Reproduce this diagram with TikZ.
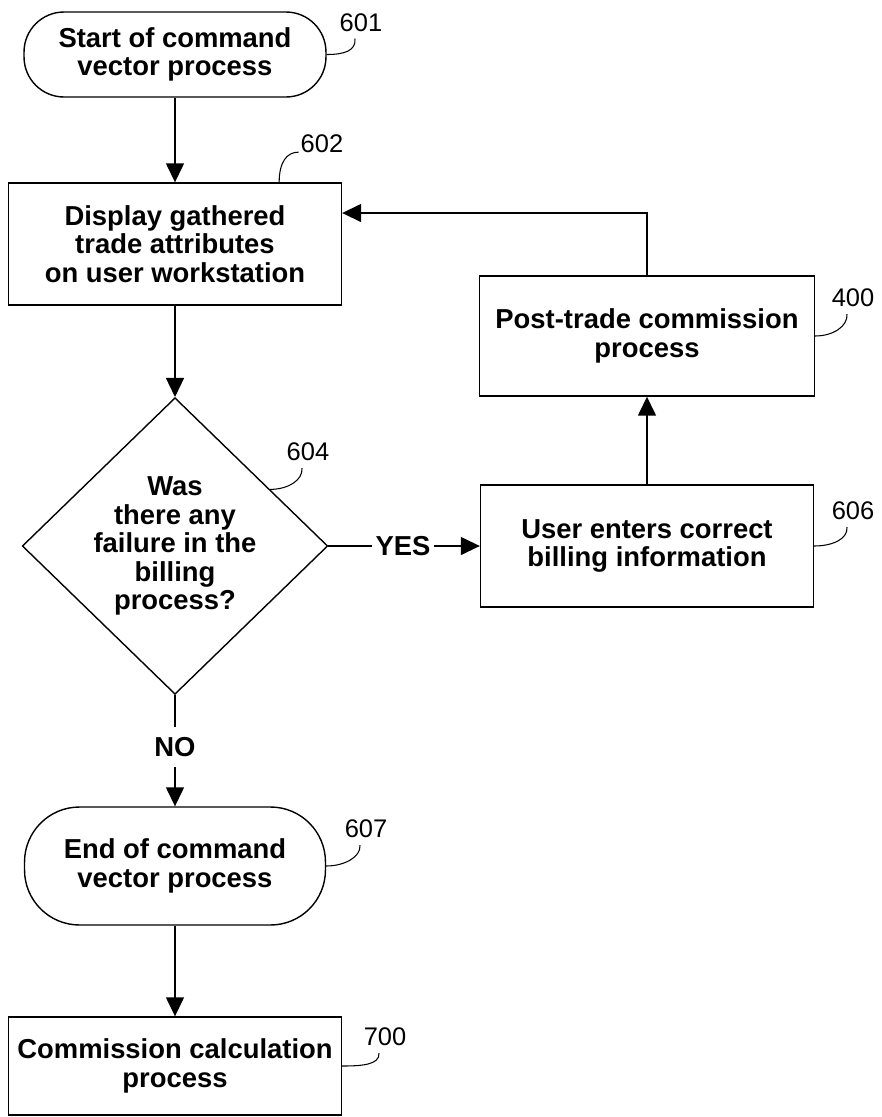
\documentclass[tikz,border=0pt]{standalone}
\usepackage{fontspec}
\setmainfont{Liberation Sans}
\usetikzlibrary{arrows.meta,shapes.geometric,calc}

\newcommand\flowfont{\fontsize{15.6}{16.2}\selectfont\bfseries}

\tikzset{
	flow/.style={-{Triangle[length=0.38cm,width=0.36cm]}, line width=0.8pt},
	link/.style={line width=0.8pt},
	lead/.style={line width=0.6pt},
	proc/.style={draw, line width=0.8pt, align=center, font=\flowfont, inner sep=0pt},
	term/.style={proc, rounded corners=0.8cm},
	decision/.style={proc, diamond, aspect=1.03, minimum width=6cm, minimum height=5.84cm},
	answer/.style={font=\flowfont, inner xsep=0.06cm, inner ysep=0.2cm},
	tag/.style={font=\fontsize{14.5}{15}\selectfont, inner sep=1pt}
}

\begin{document}
\begin{tikzpicture}[x=0.02cm, y=-0.02cm]
\useasboundingbox (0,0) rectangle (882,1117);

\draw node[term, minimum width=6.04cm, minimum height=1.7cm] (start) at (175,54.5) {Start of command\\vector process};
\draw node[proc, minimum width=6.66cm, minimum height=2.44cm] (display) at (175,244) {Display gathered\\trade attributes\\on user workstation};
\draw node[decision] (fail) at (175,546) {Was\\there any\\failure in the\\billing\\process?};
\draw node[answer] (yes) at (403,546) {YES};
\draw node[answer] (no) at (175,747) {NO};
\draw node[proc, minimum width=6.66cm, minimum height=2.44cm] (user) at (647,546) {User enters correct\\billing information};
\draw node[proc, minimum width=6.7cm, minimum height=2.4cm] (posttrade) at (647,336) {Post-trade commission\\process};
\draw node[term, rounded corners=1.1cm, minimum width=6.02cm, minimum height=2.36cm] (stop) at (175,866) {End of command\\vector process};
\draw node[proc, minimum width=6.66cm, minimum height=1.96cm] (commission) at (175,1066) {Commission calculation\\process};

\draw node[tag] (l601) at (361,22.5) {601};
\draw node[tag] (l602) at (322,144) {602};
\draw node[tag] (l604) at (308,452) {604};
\draw node[tag] (l400) at (853,298) {400};
\draw node[tag] (l606) at (853,511) {606};
\draw node[tag] (l607) at (366,829) {607};
\draw node[tag] (l700) at (385,1037) {700};

\coordinate (back) at (647,213);
\coordinate (d602) at ($(display.north east)+(-63,0)$);
\coordinate (d604) at ($(fail.north)!0.62!(fail.east)$);

\foreach \from/\to in {fail/no, fail/yes}
	\draw[link] (\from) -- (\to);

\foreach \from/\to in {start/display, display/fail, no/stop, yes/user, user/posttrade, stop/commission}
	\draw[flow] (\from) -- (\to);

\draw[flow] (posttrade) -- (back) -- (display.east |- back);

\foreach \from/\to in {start.east/l601, posttrade.east/l400, user.east/l606, stop.east/l607, commission.east/l700, d604/l604}
	\draw[lead] (\from) .. controls +(18,0) and +(1,12) .. ($(\to.south)+(-6,5)$);
\draw[lead] (d602) .. controls +(0,-20) and +(-12,0) .. ($(l602.south west)+(0,-3)$);

\end{tikzpicture}
\end{document}
